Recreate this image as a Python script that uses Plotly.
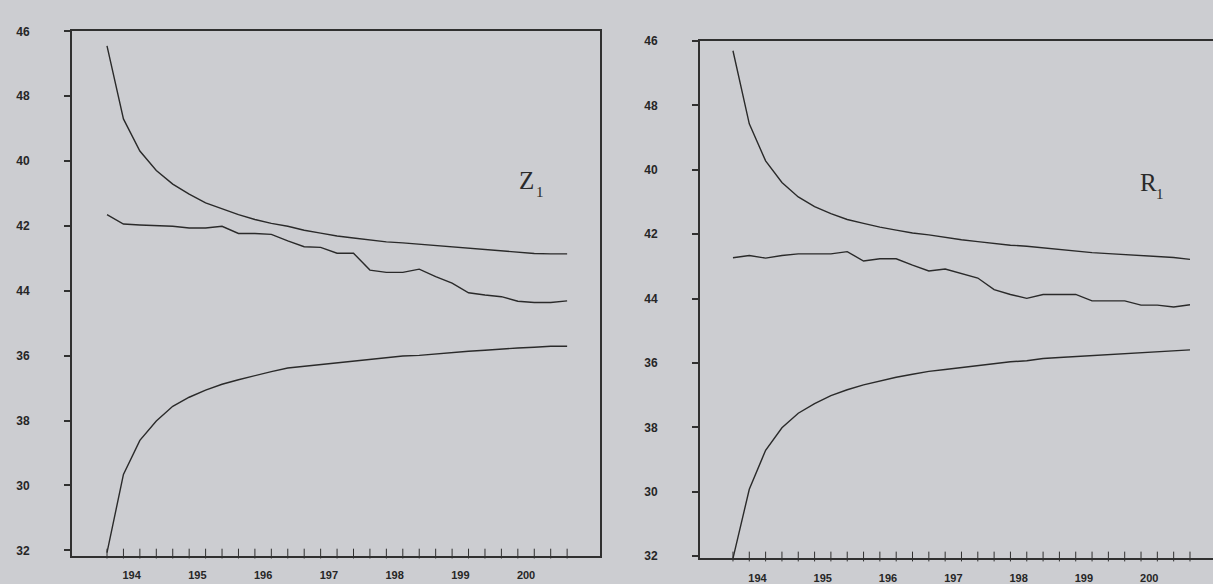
import plotly.graph_objects as go

W, H = 1213, 584

# ---------------- data ----------------
quarters = list(range(29))            # observation index (quarterly)
year_pos = [1.5, 5.5, 9.5, 13.5, 17.5, 21.5, 25.5]
year_labels = ["194", "195", "196", "197", "198", "199", "200"]
y_tickvals = [-0.16, -0.18, -0.20, -0.22, -0.24, -0.26, -0.28, -0.30, -0.32]
y_ticktext = ["46", "48", "40", "42", "44", "36", "38", "30", "32"]

z_coef = [-0.2165, -0.2194, -0.2197, -0.2198, -0.2201, -0.2206, -0.2206, -0.2201, -0.2223, -0.2223,
          -0.2226, -0.2246, -0.2264, -0.2266, -0.2284, -0.2284, -0.2336, -0.2343, -0.2343, -0.2333,
          -0.2356, -0.2376, -0.2406, -0.2413, -0.2418, -0.2432, -0.2436, -0.2436, -0.2431]
z_upper = [-0.1645, -0.1870, -0.1969, -0.2029, -0.2071, -0.2102, -0.2129, -0.2147, -0.2165, -0.2180,
           -0.2192, -0.2201, -0.2213, -0.2222, -0.2231, -0.2237, -0.2243, -0.2249, -0.2252, -0.2256,
           -0.2262, -0.2266, -0.2270, -0.2273, -0.2278, -0.2281, -0.2285, -0.2286, -0.2286]
z_lower = [-0.3207, -0.2966, -0.2861, -0.2801, -0.2756, -0.2728, -0.2706, -0.2688, -0.2674, -0.2661,
           -0.2649, -0.2638, -0.2633, -0.2628, -0.2621, -0.2616, -0.2611, -0.2606, -0.2601, -0.2599,
           -0.2594, -0.2589, -0.2586, -0.2583, -0.2579, -0.2576, -0.2574, -0.2571, -0.2571]

r_coef = [-0.2273, -0.2266, -0.2274, -0.2266, -0.2261, -0.2261, -0.2261, -0.2254, -0.2283, -0.2276,
          -0.2276, -0.2296, -0.2314, -0.2308, -0.2323, -0.2336, -0.2372, -0.2387, -0.2399, -0.2387,
          -0.2387, -0.2387, -0.2407, -0.2407, -0.2407, -0.2420, -0.2420, -0.2426, -0.2419]
r_upper = [-0.1630, -0.1857, -0.1972, -0.2039, -0.2084, -0.2114, -0.2136, -0.2154, -0.2166, -0.2178,
           -0.2187, -0.2196, -0.2202, -0.2210, -0.2217, -0.2223, -0.2229, -0.2234, -0.2237, -0.2242,
           -0.2248, -0.2252, -0.2257, -0.2260, -0.2263, -0.2266, -0.2269, -0.2272, -0.2278]
r_lower = [-0.3207, -0.2992, -0.2871, -0.2801, -0.2756, -0.2726, -0.2701, -0.2683, -0.2668, -0.2656,
           -0.2644, -0.2635, -0.2626, -0.2620, -0.2614, -0.2608, -0.2602, -0.2596, -0.2593, -0.2586,
           -0.2583, -0.2580, -0.2577, -0.2574, -0.2571, -0.2568, -0.2565, -0.2562, -0.2559]

# ---------------- styles ----------------
BG = "#cccdd1"
INK = "#2a2a2a"
AX = "#303030"
TICKFONT = dict(family="Liberation Sans", size=12, color="#262626", weight="bold")
XFONT = dict(family="Liberation Sans", size=11, color="#262626", weight="bold")
SERIF_BIG = dict(family="Liberation Serif", size=25, color="#2a2a2a")
SERIF_SUB = dict(family="Liberation Serif", size=15, color="#2a2a2a")

def px_x(p):
    return p / W

def px_y(p):
    return (H - p) / H

Y1 = [-0.3216, -0.16]
Y2 = [-0.3207, -0.16]
xr1 = [-2.13, 30.0]
xr2 = [-2.02, 29.41]

fig = go.Figure()

for series in (z_upper, z_coef, z_lower):
    fig.add_trace(go.Scatter(x=quarters, y=series, mode="lines",
                             line=dict(color=INK, width=1.4), xaxis="x", yaxis="y",
                             showlegend=False, hoverinfo="skip"))
for series in (r_upper, r_coef, r_lower):
    fig.add_trace(go.Scatter(x=quarters, y=series, mode="lines",
                             line=dict(color=INK, width=1.4), xaxis="x2", yaxis="y2",
                             showlegend=False, hoverinfo="skip"))

# quarterly tick marks on the time axis (one per observation)
for xa, ya, yr in (("x", "y", Y1), ("x2", "y2", Y2)):
    fig.add_trace(go.Scatter(x=quarters, y=[yr[0] + 0.0006] * len(quarters), mode="markers",
                             marker=dict(symbol="line-ns", size=7,
                                         line=dict(color=AX, width=1)),
                             xaxis=xa, yaxis=ya, cliponaxis=False,
                             showlegend=False, hoverinfo="skip"))

left_dom = [px_x(72), px_x(600)]
right_dom = [px_x(700), 1.0]

def xax(dom, rng, anchor):
    return dict(domain=dom, range=rng, anchor=anchor, showgrid=False, zeroline=False,
                showline=True, linecolor=AX, linewidth=2, mirror=True,
                tickvals=year_pos, ticktext=year_labels, ticks="",
                tickfont=XFONT, ticklabelstandoff=8)

def yax(dom, rng, anchor, mirror):
    return dict(domain=dom, range=rng, anchor=anchor, showgrid=False, zeroline=False,
                showline=True, linecolor=AX, linewidth=2, mirror=mirror,
                tickvals=y_tickvals, ticktext=y_ticktext, ticks="outside",
                ticklen=6, tickwidth=1.5, tickcolor=AX, tickfont=TICKFONT,
                ticklabelstandoff=32)

def label(text, x, y, font):
    return dict(text=text, xref="paper", yref="paper", x=px_x(x), y=px_y(y),
                xanchor="left", yanchor="middle", showarrow=False, font=font,
                borderpad=0)

fig.update_layout(
    width=W, height=H, autosize=False,
    margin=dict(l=0, r=0, t=0, b=0),
    paper_bgcolor=BG, plot_bgcolor=BG,
    xaxis=xax(left_dom, xr1, "y"),
    xaxis2=xax(right_dom, xr2, "y2"),
    yaxis=yax([px_y(563), px_y(25)], Y1, "x", True),
    yaxis2=yax([px_y(566), px_y(35)], Y2, "x2", False),
    annotations=[
        label("Z", 518, 178, SERIF_BIG),
        label("1", 535, 190, SERIF_SUB),
        label("R", 1139, 180, SERIF_BIG),
        label("1", 1155, 192, SERIF_SUB),
    ],
)

fig.write_html("out.html")
